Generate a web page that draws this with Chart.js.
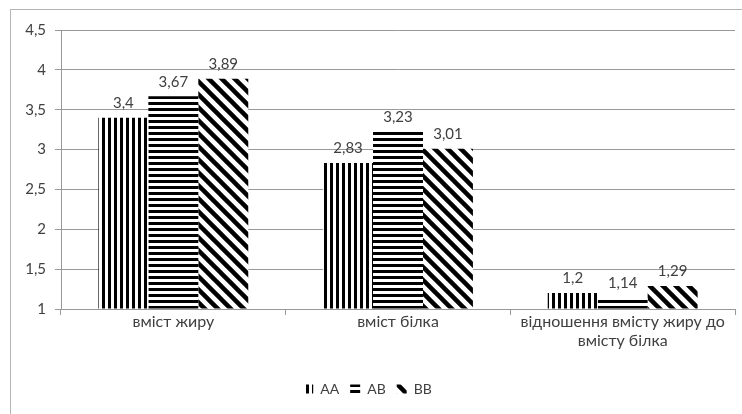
<!DOCTYPE html>
<html lang="uk">
<head>
    <meta charset="UTF-8">
    <title>Вміст жиру та білка</title>
    <script src="https://cdn.jsdelivr.net/npm/chart.js"></script>
    <style>
        body {
            margin: 0;
            padding: 0;
            background: #fff;
            overflow: hidden;
        }
        .frame {
            position: absolute;
            left: 10px;
            top: 9px;
            width: 760px;
            height: 430px;
            border: 1px solid #b4b4b4;
        }
        .chart-container {
            position: absolute;
            left: 0;
            top: 0;
            width: 742px;
            height: 414px;
        }
    </style>
</head>
<body>
    <div class="frame"></div>
    <div class="chart-container">
        <canvas id="milkChart"></canvas>
    </div>
    <script>
        const categories = ['вміст жиру', 'вміст білка', ['відношення вмісту жиру до', 'вмісту білка']];
        const seriesNames = ['AA', 'AB', 'BB'];
        const valuesAA = [3.4, 2.83, 1.2];
        const valuesAB = [3.67, 3.23, 1.14];
        const valuesBB = [3.89, 3.01, 1.29];
        const yTicks = [1, 1.5, 2, 2.5, 3, 3.5, 4, 4.5];

        const textColor = '#404040';
        const fontFamily = 'Lato, "Liberation Sans", sans-serif';

        // hatch patterns like the Excel original
        function makePattern(kind) {
            const c = document.createElement('canvas');
            const ctx = c.getContext('2d');
            if (kind === 'vertical') {
                c.width = 6; c.height = 6;
                ctx.fillStyle = '#fff';
                ctx.fillRect(0, 0, 6, 6);
                ctx.fillStyle = '#000';
                ctx.fillRect(0, 0, 3, 6);
            } else if (kind === 'horizontal') {
                c.width = 6; c.height = 6;
                ctx.fillStyle = '#fff';
                ctx.fillRect(0, 0, 6, 6);
                ctx.fillStyle = '#000';
                ctx.fillRect(0, 0, 6, 3);
            } else {
                const s = 13;
                c.width = s; c.height = s;
                ctx.fillStyle = '#fff';
                ctx.fillRect(0, 0, s, s);
                ctx.strokeStyle = '#000';
                ctx.lineWidth = 4.5;
                for (const off of [-s, 0, s]) {
                    ctx.beginPath();
                    ctx.moveTo(off - 4, -4);
                    ctx.lineTo(off + s + 4, s + 4);
                    ctx.stroke();
                }
            }
            return ctx.createPattern(c, 'repeat');
        }

        const labelPlugin = {
            id: 'valueLabels',
            afterDatasetsDraw(chart) {
                const ctx = chart.ctx;
                ctx.save();
                ctx.font = '15px ' + fontFamily;
                ctx.fillStyle = textColor;
                ctx.textAlign = 'center';
                ctx.textBaseline = 'bottom';
                chart.data.datasets.forEach((ds, i) => {
                    chart.getDatasetMeta(i).data.forEach((bar, j) => {
                        const txt = String(ds.data[j]).replace('.', ',');
                        ctx.fillText(txt, bar.x, bar.y - 7);
                    });
                });
                ctx.restore();
            }
        };

        const ctx = document.getElementById('milkChart').getContext('2d');
        const patterns = [makePattern('vertical'), makePattern('horizontal'), makePattern('diagonal')];
        const seriesValues = [valuesAA, valuesAB, valuesBB];

        new Chart(ctx, {
            type: 'bar',
            data: {
                labels: categories,
                datasets: seriesNames.map((name, i) => ({
                    label: name,
                    data: seriesValues[i],
                    backgroundColor: patterns[i],
                    borderWidth: 0,
                    barPercentage: 1,
                    categoryPercentage: 0.667,
                    base: 1
                }))
            },
            options: {
                responsive: true,
                maintainAspectRatio: false,
                animation: false,
                layout: {
                    padding: { top: 30, right: 7, bottom: 8, left: 0 }
                },
                plugins: {
                    legend: {
                        position: 'bottom',
                        labels: {
                            boxWidth: 10,
                            boxHeight: 9,
                            padding: 11,
                            color: textColor,
                            font: { family: fontFamily, size: 14 }
                        }
                    },
                    tooltip: { enabled: false }
                },
                scales: {
                    x: {
                        grid: {
                            drawOnChartArea: false,
                            offset: true,
                            tickLength: 6,
                            color: '#999'
                        },
                        border: { color: '#999' },
                        ticks: {
                            color: textColor,
                            font: { family: fontFamily, size: 16, lineHeight: 1.2 },
                            maxRotation: 0,
                            autoSkip: false,
                            padding: -3
                        },
                        afterFit(scale) { scale.height = 62; }
                    },
                    y: {
                        min: 1,
                        max: 4.5,
                        afterBuildTicks(scale) {
                            scale.ticks = yTicks.map(v => ({ value: v }));
                        },
                        grid: {
                            color: '#999',
                            tickLength: 6
                        },
                        border: { color: '#999' },
                        ticks: {
                            color: textColor,
                            font: { family: fontFamily, size: 15 },
                            padding: 9,
                            callback: v => String(v).replace('.', ',')
                        },
                        afterFit(scale) { scale.width = 61; }
                    }
                }
            },
            plugins: [labelPlugin]
        });
    </script>
</body>
</html>
